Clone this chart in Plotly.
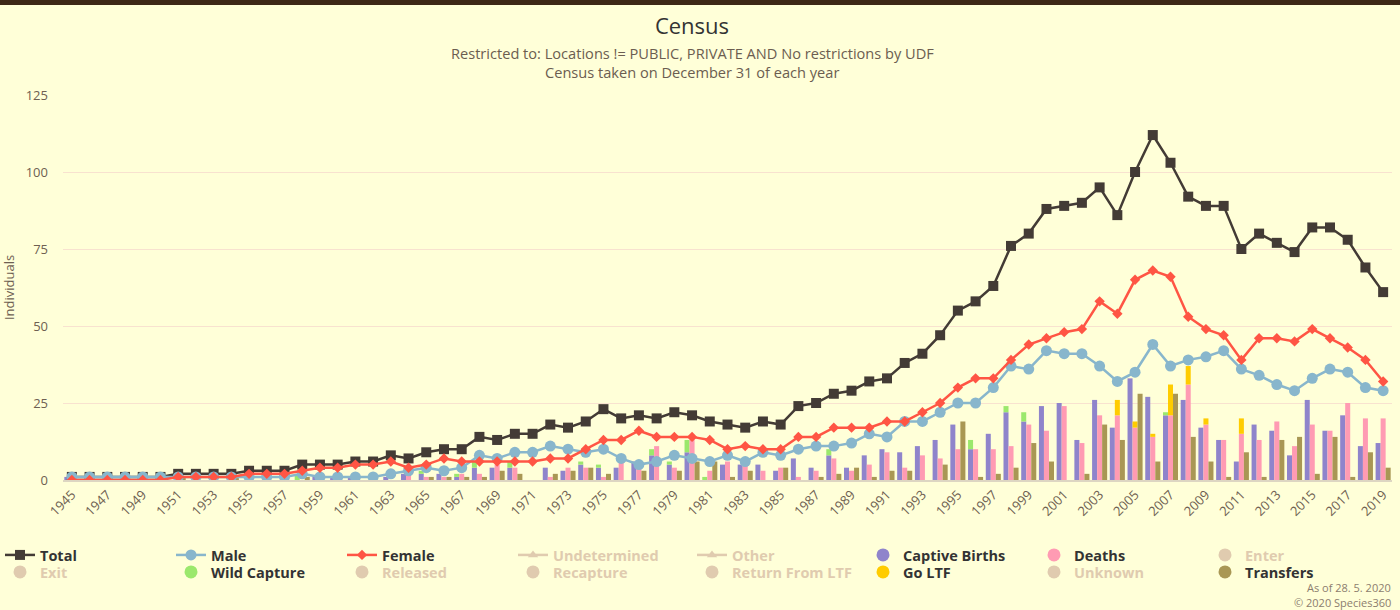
import plotly.graph_objects as go

years = list(range(1945, 2020))

total = [1, 1, 1, 1, 1, 1, 2, 2, 2, 2, 3, 3, 3, 5, 5, 5, 6, 6, 8, 7,
         9, 10, 10, 14, 13, 15, 15, 18, 17, 19, 23, 20, 21, 20, 22, 21, 19, 18, 17, 19,
         18, 24, 25, 28, 29, 32, 33, 38, 41, 47, 55, 58, 63, 76, 80, 88, 89, 90, 95, 86,
         100, 112, 103, 92, 89, 89, 75, 80, 77, 74, 82, 82, 78, 69, 61]
male = [1, 1, 1, 1, 1, 1, 1, 1, 1, 1, 1, 1, 1, 2, 1, 1, 1, 1, 2, 3,
        4, 3, 4, 8, 7, 9, 9, 11, 10, 9, 10, 7, 5, 6, 8, 7, 6, 8, 6, 9,
        8, 10, 11, 11, 12, 15, 14, 19, 19, 22, 25, 25, 30, 37, 36, 42, 41, 41, 37, 32,
        35, 44, 37, 39, 40, 42, 36, 34, 31, 29, 33, 36, 35, 30, 29]
female = [0, 0, 0, 0, 0, 0, 1, 1, 1, 1, 2, 2, 2, 3, 4, 4, 5, 5, 6, 4,
          5, 7, 6, 6, 6, 6, 6, 7, 7, 10, 13, 13, 16, 14, 14, 14, 13, 10, 11, 10,
          10, 14, 14, 17, 17, 17, 19, 19, 22, 25, 30, 33, 33, 39, 44, 46, 48, 49, 58, 54,
          65, 68, 66, 53, 49, 47, 39, 46, 46, 45, 49, 46, 43, 39, 32]

captive_births = [1, 0, 0, 0, 0, 0, 0, 0, 0, 0, 0, 0, 0, 0, 1, 1, 1, 0, 1, 2,
                  2, 2, 1, 4, 4, 4, 0, 4, 3, 5, 4, 4, 6, 8, 5, 9, 0, 5, 5, 5,
                  3, 7, 4, 8, 4, 8, 10, 9, 11, 13, 18, 10, 15, 22, 19, 24, 25, 13, 26, 17,
                  33, 27, 21, 26, 17, 13, 6, 18, 16, 8, 26, 16, 21, 11, 12]
wild_capture = [0, 0, 0, 0, 0, 0, 0, 0, 0, 0, 0, 0, 0, 2, 0, 0, 0, 0, 0, 0,
                1, 0, 1, 2, 0, 2, 0, 0, 0, 1, 1, 0, 0, 2, 1, 4, 1, 0, 0, 0,
                0, 0, 0, 2, 0, 0, 0, 0, 0, 0, 0, 3, 0, 2, 3, 0, 0, 0, 0, 0,
                0, 0, 1, 0, 0, 0, 0, 0, 0, 0, 0, 0, 0, 0, 0]
deaths = [0, 0, 0, 0, 0, 0, 0, 0, 0, 0, 0, 0, 0, 0, 0, 0, 0, 0, 0, 2,
          1, 1, 2, 2, 5, 4, 0, 1, 4, 4, 1, 6, 4, 11, 4, 14, 3, 6, 7, 3,
          4, 1, 3, 7, 3, 5, 9, 4, 8, 7, 10, 10, 10, 11, 18, 16, 24, 12, 21, 21,
          17, 14, 21, 31, 18, 13, 15, 13, 19, 11, 18, 16, 25, 20, 20]
go_ltf = [0, 0, 0, 0, 0, 0, 0, 0, 0, 0, 0, 0, 0, 0, 0, 0, 0, 0, 0, 0,
          0, 0, 0, 0, 0, 0, 0, 0, 0, 0, 0, 0, 0, 0, 0, 0, 0, 0, 0, 0,
          0, 0, 0, 0, 0, 0, 0, 0, 0, 0, 0, 0, 0, 0, 0, 0, 0, 0, 0, 5,
          2, 1, 10, 6, 2, 0, 5, 0, 0, 0, 0, 0, 0, 0, 0]
transfers = [0, 0, 0, 0, 0, 0, 1, 0, 0, 1, 0, 0, 0, 1, 0, 0, 0, 0, 0, 0,
             1, 1, 1, 1, 3, 2, 0, 2, 3, 4, 2, 0, 3, 0, 3, 6, 6, 1, 3, 0,
             4, 0, 1, 2, 4, 1, 3, 3, 0, 5, 19, 1, 2, 4, 12, 6, 0, 2, 18, 13,
             28, 6, 28, 14, 6, 1, 9, 1, 13, 14, 2, 14, 1, 9, 4]

FONT = "Open Sans"
BG = "#ffffd8"
TXT = "#333333"
AXT = "#6e6051"
HID = "#e0cbaf"

C_TOTAL = "#433b35"
C_MALE = "#88b6cc"
C_FEMALE = "#ff5544"
C_CB = "#8f84cb"
C_DEATH = "#ff9bb3"
C_WC = "#9be86c"
C_LTF = "#ffcc00"
C_TR = "#a99754"

fig = go.Figure()

# ---- bars (grouped, stacked within group) ----
fig.add_trace(go.Bar(x=years, y=captive_births, offsetgroup="births", marker_color=C_CB,
                     marker_line_width=0, showlegend=False, name="Captive Births"))
fig.add_trace(go.Bar(x=years, y=wild_capture, base=captive_births, offsetgroup="births",
                     marker_color=C_WC, marker_line_width=0, showlegend=False, name="Wild Capture"))
fig.add_trace(go.Bar(x=years, y=deaths, offsetgroup="deaths", marker_color=C_DEATH,
                     marker_line_width=0, showlegend=False, name="Deaths"))
fig.add_trace(go.Bar(x=years, y=go_ltf, base=deaths, offsetgroup="deaths", marker_color=C_LTF,
                     marker_line_width=0, showlegend=False, name="Go LTF"))
fig.add_trace(go.Bar(x=years, y=transfers, offsetgroup="transfers", marker_color=C_TR,
                     marker_line_width=0, showlegend=False, name="Transfers"))


def dummy(name, color, legend, symbol="circle", line=False, size=13):
    fig.add_trace(go.Scatter(
        x=[None], y=[None], name=name, legend=legend,
        mode="lines+markers" if line else "markers",
        line=dict(color=color, width=2.5),
        marker=dict(color=color, symbol=symbol, size=size, line=dict(width=0)),
    ))


def hid(t):
    return "<span style='color:%s'>%s</span>" % (HID, t)


# ---- row 1, first half: line series ----
fig.add_trace(go.Scatter(x=years, y=total, name="Total", mode="lines+markers", legend="legend",
                         line=dict(color=C_TOTAL, width=2.5),
                         marker=dict(symbol="square", size=10, color=C_TOTAL, line=dict(width=0))))
fig.add_trace(go.Scatter(x=years, y=male, name="Male", mode="lines+markers", legend="legend",
                         line=dict(color=C_MALE, width=2.5),
                         marker=dict(symbol="circle", size=11, color=C_MALE, line=dict(width=0))))
fig.add_trace(go.Scatter(x=years, y=female, name="Female", mode="lines+markers", legend="legend",
                         line=dict(color=C_FEMALE, width=2.5),
                         marker=dict(symbol="diamond", size=8, color=C_FEMALE, line=dict(width=0))))
dummy(hid("Undetermined"), HID, "legend", symbol="triangle-up", line=True, size=9)
# ---- row 1, second half ----
dummy(hid("Other"), HID, "legend2", symbol="triangle-up", line=True, size=9)
dummy("Captive Births", C_CB, "legend2")
dummy("Deaths", C_DEATH, "legend2")
dummy(hid("Enter"), HID, "legend2")
# ---- row 2, first half ----
dummy(hid("Exit"), HID, "legend3")
dummy("Wild Capture", C_WC, "legend3")
dummy(hid("Released"), HID, "legend3")
dummy(hid("Recapture"), HID, "legend3")
# ---- row 2, second half ----
dummy(hid("Return From LTF"), HID, "legend4")
dummy("Go LTF", C_LTF, "legend4")
dummy(hid("Unknown"), HID, "legend4")
dummy("Transfers", C_TR, "legend4")

W, H = 1400, 610
L, R, T, B = 63, 8, 95, 130
pw, ph = W - L - R, H - T - B
PITCH = 173


def px(xp):
    return (xp - L) / pw


def py(yp):
    return (H - B - yp) / ph


legend_common = dict(orientation="h", traceorder="normal", xref="container", yref="container",
                     xanchor="left", yanchor="middle", entrywidth=PITCH - 47,
                     entrywidthmode="pixels", bgcolor="rgba(0,0,0,0)", borderwidth=0,
                     tracegroupgap=0,
                     font=dict(family=FONT, size=14.5, color=TXT, weight="bold"),
                     itemclick=False, itemdoubleclick=False)

fig.update_layout(
    width=W, height=H,
    margin=dict(l=L, r=R, t=T, b=B, autoexpand=False),
    paper_bgcolor=BG, plot_bgcolor=BG,
    font=dict(family=FONT, color=AXT),
    barmode="group", bargap=0.15, bargroupgap=0,
    title=dict(text="Census", xref="container", x=692 / W, xanchor="center",
               yref="container", y=1 - 26 / H, yanchor="middle",
               font=dict(family=FONT, size=22, color=TXT)),
    legend=dict(x=0, y=1 - 555 / H, **legend_common),
    legend2=dict(x=(4 * PITCH) / W, y=1 - 555 / H, **legend_common),
    legend3=dict(x=0, y=1 - 572 / H, **legend_common),
    legend4=dict(x=(4 * PITCH) / W, y=1 - 572 / H, **legend_common),
    xaxis=dict(range=[1944.5, 2019.5], tick0=1945, dtick=2, tickangle=-45,
               showgrid=False, zeroline=False, showline=True, linecolor="#ddd6c2", linewidth=2,
               ticks="", tickfont=dict(family=FONT, size=13, color=AXT), fixedrange=True),
    yaxis=dict(range=[0, 125], dtick=25, showgrid=True, gridcolor="#f8e2cf", gridwidth=1,
               zeroline=False, showline=False, ticks="", ticklabelstandoff=14,
               tickfont=dict(family=FONT, size=13, color=AXT),
               title=dict(text="Individuals", standoff=16, font=dict(family=FONT, size=13, color=AXT)),
               fixedrange=True),
    shapes=[dict(type="rect", xref="paper", yref="paper", x0=px(0), x1=px(W), y0=py(5), y1=py(0),
                 fillcolor="#3d2816", line=dict(width=0), layer="above")],
    annotations=[
        dict(text="Restricted to: Locations != PUBLIC, PRIVATE AND No restrictions by UDF",
             xref="paper", yref="paper", x=px(692), y=py(53), showarrow=False,
             xanchor="center", yanchor="middle", font=dict(family=FONT, size=14.6, color="#6b5d50")),
        dict(text="Census taken on December 31 of each year",
             xref="paper", yref="paper", x=px(692), y=py(72), showarrow=False,
             xanchor="center", yanchor="middle", font=dict(family=FONT, size=14.6, color="#6b5d50")),
        dict(text="As of 28. 5. 2020", xref="paper", yref="paper", x=px(1393), y=py(587),
             showarrow=False, xanchor="right", yanchor="middle",
             font=dict(family=FONT, size=11, color="#8c7d6e")),
        dict(text="© 2020 Species360", xref="paper", yref="paper", x=px(1393), y=py(602),
             showarrow=False, xanchor="right", yanchor="middle",
             font=dict(family=FONT, size=11, color="#8c7d6e")),
    ],
)

fig.write_html("out.html", config={"displayModeBar": False},
               post_script="document.body.style.margin='0';document.body.style.overflow='hidden';")
